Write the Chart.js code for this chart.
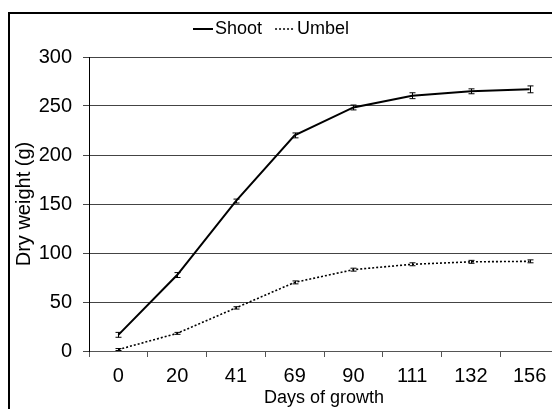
<!DOCTYPE html>
<html>
<head>
<meta charset="utf-8">
<script src="https://cdn.jsdelivr.net/npm/chart.js@4.4.0/dist/chart.umd.min.js"></script>
<style>
  html, body { margin: 0; padding: 0; background: #fff; overflow: hidden; width: 552px; height: 409px; }
  #wrap { position: relative; width: 552px; height: 409px; overflow: hidden; }
  #chart { position: absolute; left: 0; top: 0; }
  #frame { position: absolute; left: 8px; top: 12px; width: 600px; height: 500px; border: 2.5px solid #000; pointer-events: none; }
</style>
</head>
<body>
<div id="wrap">
  <canvas id="chart" width="559" height="409"></canvas>
  <div id="frame"></div>
</div>
<script>
'use strict';

// ===== DATA =====
const DAYS = ['0', '20', '41', '69', '90', '111', '132', '156'];
const SHOOT = [16.5, 77.5, 153, 220, 248.5, 260.5, 265, 267];
const SHOOT_ERR = [2.5, 2.5, 2, 2.5, 2.5, 3, 2.5, 3.5];
const UMBEL = [1.5, 18, 44, 70, 83, 88.5, 91, 91.5];
const UMBEL_ERR = [1, 1, 1.2, 1.5, 1.5, 1.5, 1.5, 1.5];
const Y_TICKS = [0, 50, 100, 150, 200, 250, 300];

const FONT = 'Liberation Sans, Arial, sans-serif';

// ===== ERROR BARS =====
const errorBars = {
  id: 'errorBars',
  afterDatasetsDraw(chart) {
    const { ctx, scales: { x, y } } = chart;
    const errs = [SHOOT_ERR, UMBEL_ERR];
    ctx.save();
    ctx.strokeStyle = '#000';
    ctx.lineWidth = 1;
    ctx.setLineDash([]);
    chart.data.datasets.forEach((ds, di) => {
      ds.data.forEach((v, i) => {
        const e = errs[di][i];
        const px = Math.round(x.getPixelForValue(i)) + 0.5;
        const top = y.getPixelForValue(v + e);
        const bot = y.getPixelForValue(v - e);
        ctx.beginPath();
        ctx.moveTo(px, top); ctx.lineTo(px, bot);
        ctx.moveTo(px - 3, top); ctx.lineTo(px + 3, top);
        ctx.moveTo(px - 3, bot); ctx.lineTo(px + 3, bot);
        ctx.stroke();
      });
    });
    ctx.restore();
  }
};

// ===== LEGEND (compact, Excel-like) =====
const miniLegend = {
  id: 'miniLegend',
  afterDraw(chart) {
    const { ctx } = chart;
    const cy = 29;
    let cx = 193;
    ctx.save();
    ctx.font = '18px ' + FONT;
    ctx.textBaseline = 'middle';
    ctx.fillStyle = '#000';
    chart.data.datasets.forEach((ds, i) => {
      ctx.strokeStyle = '#000';
      ctx.lineWidth = ds.borderWidth;
      ctx.setLineDash(ds.borderDash || []);
      ctx.beginPath();
      ctx.moveTo(cx, cy); ctx.lineTo(cx + 20, cy);
      ctx.stroke();
      ctx.setLineDash([]);
      ctx.fillText(ds.label, cx + 22, cy);
      cx += 22 + ctx.measureText(ds.label).width + 13;
    });
    ctx.restore();
  }
};

// ===== CHART =====
new Chart(document.getElementById('chart'), {
  type: 'line',
  data: {
    labels: DAYS,
    datasets: [
      { label: 'Shoot', data: SHOOT, borderColor: '#000', borderWidth: 2, pointRadius: 0, tension: 0 },
      { label: 'Umbel', data: UMBEL, borderColor: '#000', borderWidth: 1.6, borderDash: [2, 2], pointRadius: 0, tension: 0 }
    ]
  },
  options: {
    responsive: false,
    animation: false,
    devicePixelRatio: 1,
    layout: { padding: { top: 57, left: 0, right: 0, bottom: 0 } },
    plugins: { legend: { display: false }, tooltip: { enabled: false } },
    scales: {
      x: {
        offset: true,
        grid: { offset: true, drawOnChartArea: false, drawTicks: true, tickLength: 6, color: '#555' },
        border: { color: '#555', width: 1 },
        ticks: { color: '#000', font: { family: FONT, size: 20 }, padding: 7, maxRotation: 0, autoSkip: false },
        title: { display: true, text: 'Days of growth', color: '#000', font: { family: FONT, size: 18 }, padding: { top: 0, bottom: 0 } },
        afterFit(scale) { scale.height = 58; }
      },
      y: {
        min: 0,
        max: 300,
        afterBuildTicks(scale) { scale.ticks = Y_TICKS.map(v => ({ value: v })); },
        grid: { color: '#444', lineWidth: 1, drawTicks: true, tickLength: 6 },
        border: { color: '#000', width: 1 },
        ticks: { color: '#000', font: { family: FONT, size: 20 }, padding: 11 },
        title: { display: true, text: 'Dry weight (g)', color: '#000', font: { family: FONT, size: 20 }, padding: { top: 12, bottom: 0 } },
        afterFit(scale) { scale.width = 89; }
      }
    }
  },
  plugins: [errorBars, miniLegend]
});
</script>
</body>
</html>
